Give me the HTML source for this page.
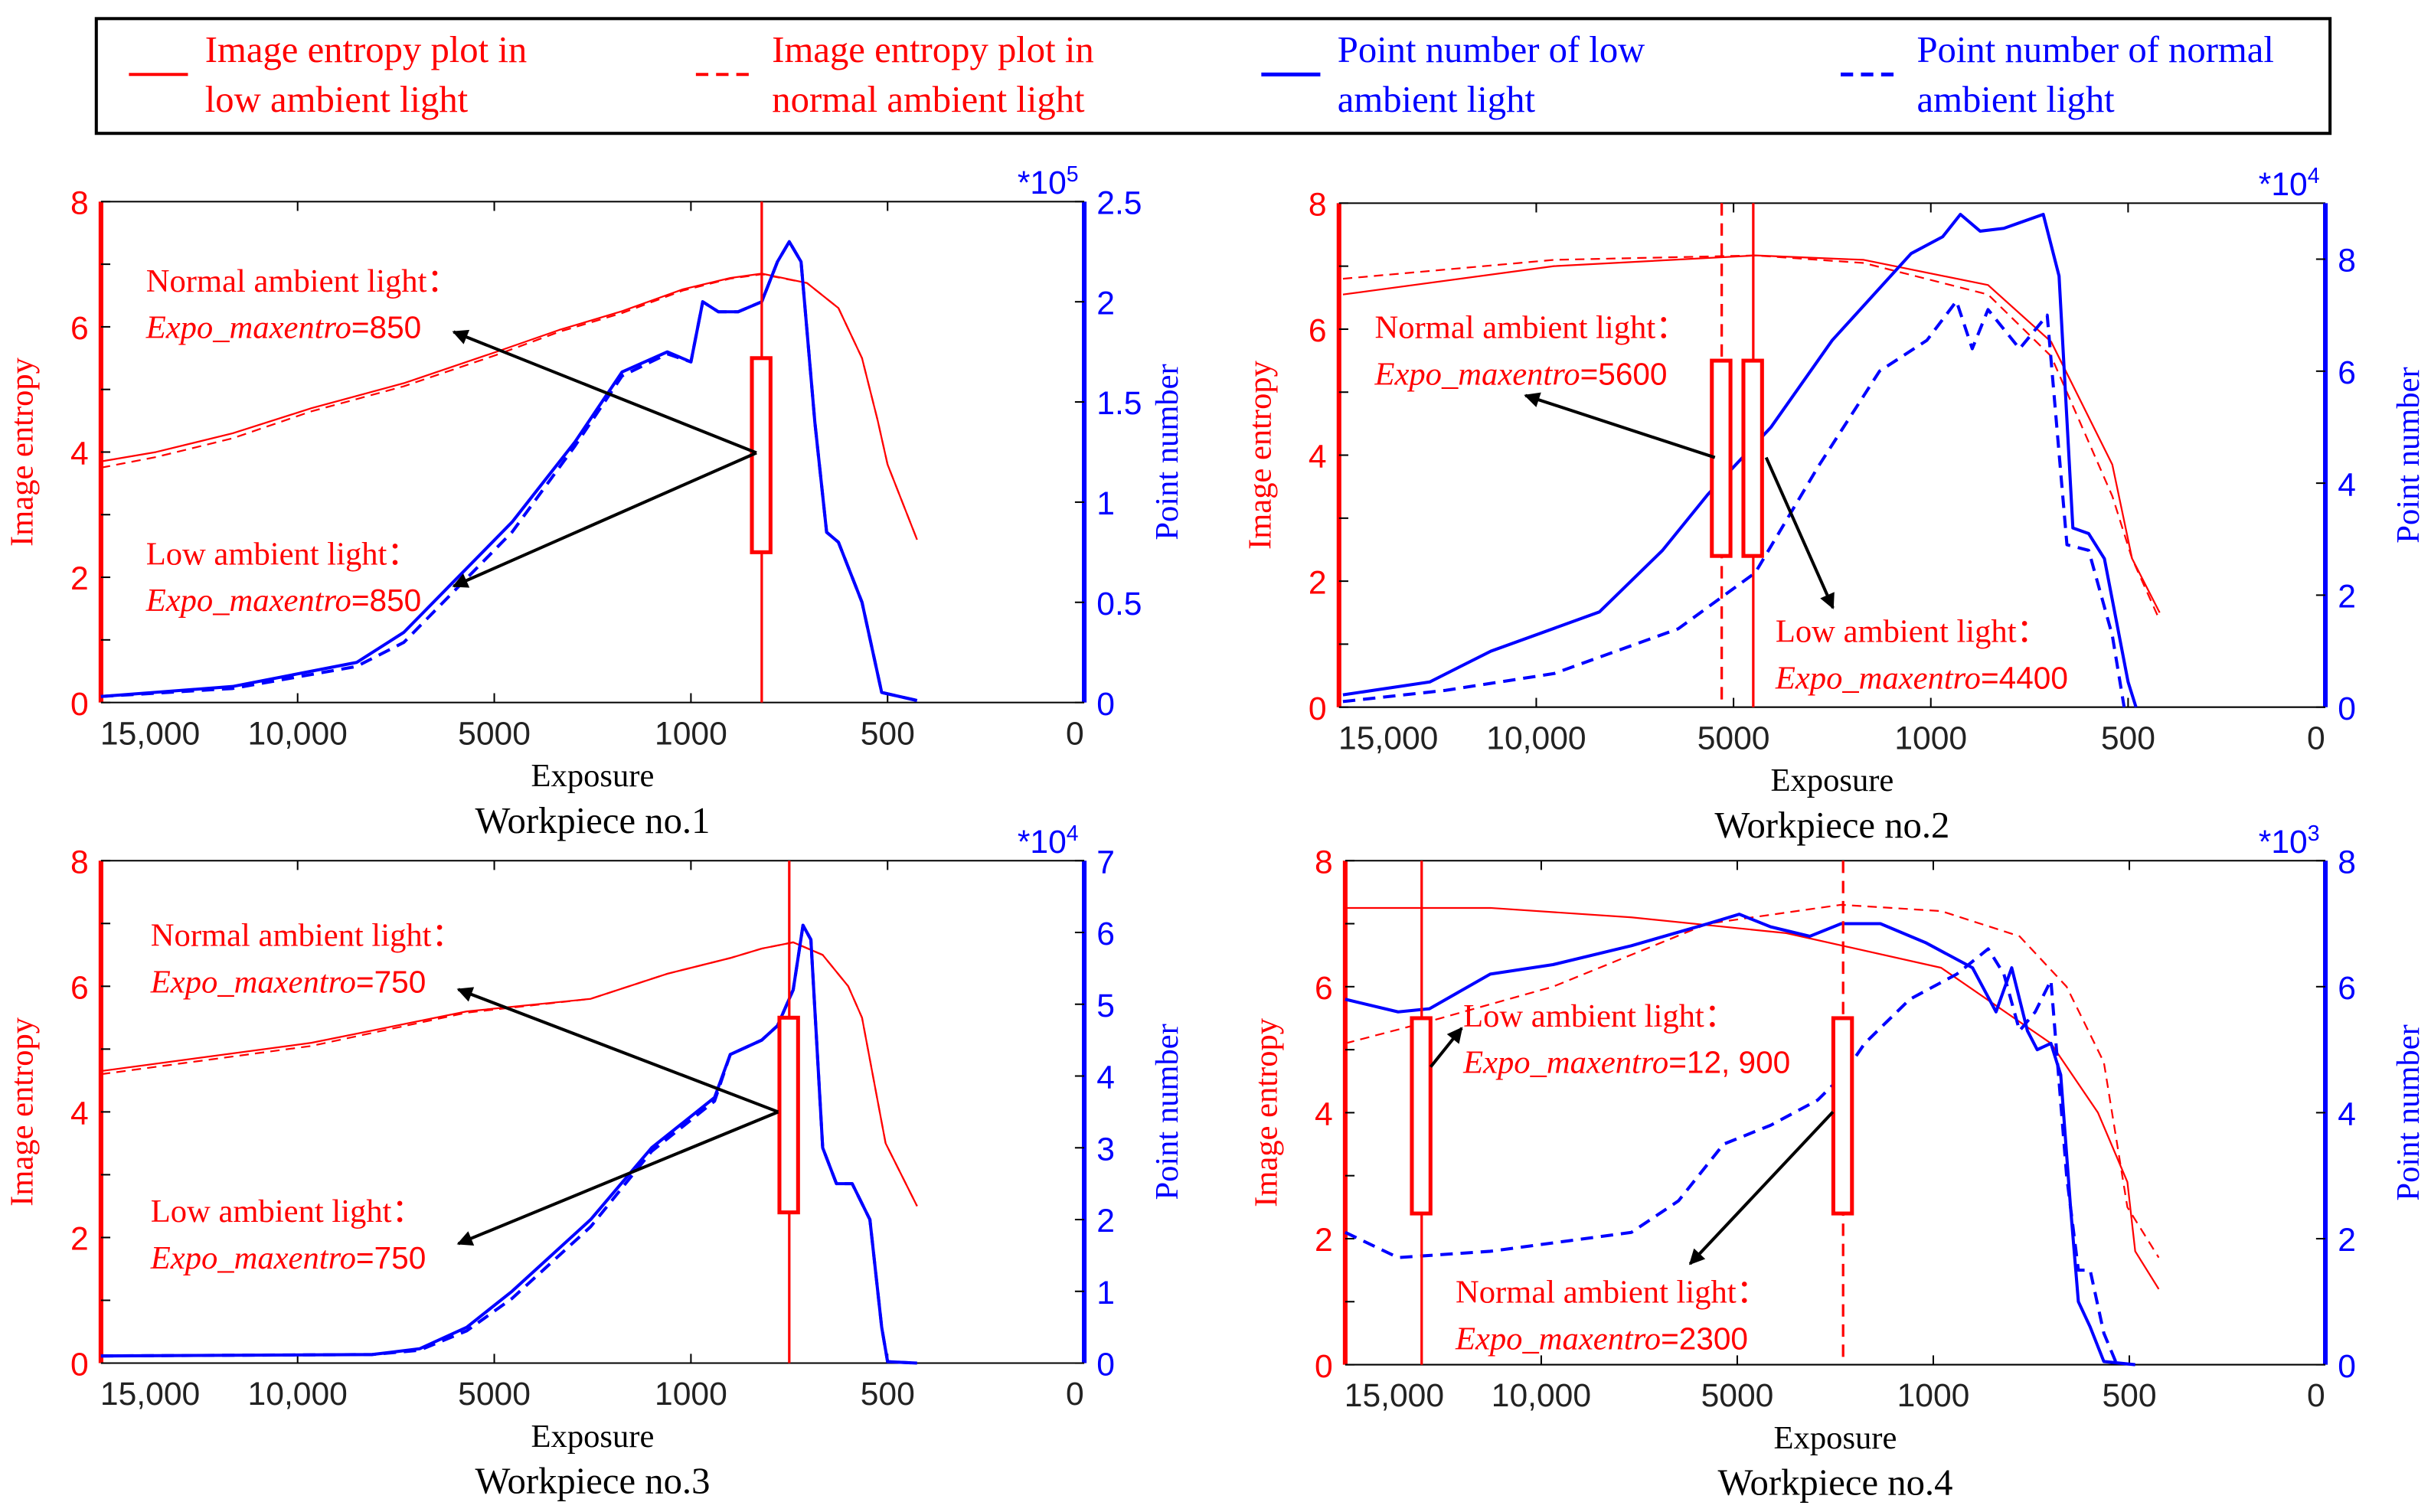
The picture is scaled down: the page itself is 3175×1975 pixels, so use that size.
<!DOCTYPE html>
<html><head><meta charset="utf-8"><style>
html,body{margin:0;padding:0;background:#fff}
svg{display:block}
text{font-family:"Liberation Serif",serif}
.tk{font-family:"Liberation Sans",sans-serif;font-size:21px}
</style></head><body>
<svg id="c" xmlns="http://www.w3.org/2000/svg" width="3175" height="1975" viewBox="0 0 1565 975" preserveAspectRatio="none">
<g>
<rect x="62" y="12" width="1438" height="74" fill="#fff" stroke="#000" stroke-width="2"/>
<line x1="83" y1="48" x2="121" y2="48" stroke="red" stroke-width="2"/>
<text x="132" y="40" font-size="24" fill="red">Image entropy plot in</text><text x="132" y="72" font-size="24" fill="red">low ambient light</text>
<line x1="448" y1="48" x2="486" y2="48" stroke="red" stroke-width="2" stroke-dasharray="8,5"/>
<text x="497" y="40" font-size="24" fill="red">Image entropy plot in</text><text x="497" y="72" font-size="24" fill="red">normal ambient light</text>
<line x1="812" y1="48" x2="850" y2="48" stroke="blue" stroke-width="2.5"/>
<text x="861" y="40" font-size="24" fill="blue">Point number of low</text><text x="861" y="72" font-size="24" fill="blue">ambient light</text>
<line x1="1185" y1="48" x2="1222" y2="48" stroke="blue" stroke-width="2.5" stroke-dasharray="8,5"/>
<text x="1234" y="40" font-size="24" fill="blue">Point number of normal</text><text x="1234" y="72" font-size="24" fill="blue">ambient light</text>
</g>
</svg>
<script>
// x values are positions on the exposure axis (tick index units: 10,000=1, 5000=2, 1000=3, 500=4, 0=5)
const tickU=[0.25,1,2,3,4,5];
const tickLabels=["15,000","10,000","5000","1000","500","0"];
const entTicks=[0,2,4,6,8];
// Panel 1
const p1EntX=[0,0.28,0.67,1.07,1.54,2.01,2.33,2.65,2.96,3.20,3.36,3.59,3.75,3.87,3.95,4.0,4.15];
const p1EntLow=[3.85,4.0,4.3,4.7,5.1,5.6,5.95,6.25,6.6,6.78,6.85,6.7,6.3,5.5,4.5,3.8,2.6];
const p1EntNorm=[3.75,3.92,4.22,4.65,5.05,5.55,5.92,6.22,6.58,6.77,6.84,6.7,6.3,5.5,4.5,3.8,2.6];
const p1PtX=[0,0.67,1.30,1.54,2.09,2.41,2.65,2.88,3.0,3.06,3.14,3.24,3.36,3.44,3.50,3.56,3.63,3.69,3.75,3.87,3.97,4.15];
const p1PtLow=[0.03,0.08,0.2,0.35,0.9,1.3,1.65,1.75,1.7,2.0,1.95,1.95,2.0,2.2,2.3,2.2,1.4,0.85,0.8,0.5,0.05,0.01];
const p1PtNorm=[0.03,0.07,0.18,0.3,0.85,1.28,1.63,1.74,1.7,2.0,1.95,1.95,2.0,2.2,2.3,2.2,1.4,0.85,0.8,0.5,0.05,0.01];
// Panel 2
const p2EntX=[0.02,1.09,2.11,2.66,3.29,3.61,3.92,4.02,4.16];
const p2EntLow=[6.55,7.0,7.17,7.1,6.7,5.8,3.85,2.36,1.5];
const p2EntNorm=[6.8,7.1,7.17,7.05,6.55,5.57,3.35,2.36,1.38];
const p2PtLowX=[0.02,0.46,0.77,1.32,1.64,1.87,2.19,2.50,2.90,3.06,3.15,3.25,3.37,3.45,3.57,3.65,3.72,3.80,3.88,4.0,4.04];
const p2PtLow=[0.22,0.45,1.0,1.7,2.8,3.8,5.0,6.55,8.1,8.4,8.8,8.5,8.55,8.65,8.8,7.7,3.2,3.1,2.65,0.45,0];
const p2PtNormX=[0.02,0.54,1.09,1.72,2.11,2.43,2.74,2.98,3.13,3.21,3.29,3.45,3.59,3.69,3.80,3.92,3.98];
const p2PtNorm=[0.1,0.3,0.6,1.4,2.4,4.3,6.0,6.55,7.25,6.4,7.1,6.4,7.0,2.9,2.8,1.28,0];
// Panel 3
const p3EntX=[0,1.07,1.86,2.49,2.88,3.20,3.36,3.52,3.67,3.80,3.87,3.99,4.15];
const p3EntLow=[4.65,5.1,5.6,5.8,6.2,6.45,6.6,6.7,6.5,6.0,5.5,3.5,2.5];
const p3EntNorm=[4.6,5.05,5.58,5.8,6.2,6.45,6.6,6.7,6.5,6.0,5.5,3.5,2.5];
const p3PtX=[0,1.38,1.62,1.86,2.09,2.49,2.80,3.12,3.20,3.28,3.36,3.44,3.52,3.57,3.61,3.67,3.74,3.82,3.91,3.97,4.0,4.15];
const p3PtLow=[0.1,0.12,0.2,0.5,1.0,2.0,3.0,3.7,4.3,4.4,4.5,4.7,5.2,6.1,5.9,3.0,2.5,2.5,2.0,0.5,0.02,0];
const p3PtNorm=[0.1,0.12,0.18,0.45,0.9,1.9,2.95,3.65,4.3,4.4,4.5,4.7,5.2,6.1,5.9,3.0,2.5,2.5,2.0,0.5,0.02,0];
// Panel 4
const p4EntLowX=[0,0.74,1.46,2.25,3.04,3.60,3.84,3.99,4.03,4.15];
const p4EntLow=[7.25,7.25,7.1,6.85,6.3,5.1,4.0,2.9,1.8,1.2];
const p4EntNormX=[0,0.43,1.06,1.85,2.53,3.04,3.44,3.68,3.87,3.99,4.15];
const p4EntNorm=[5.1,5.45,6.0,7.0,7.3,7.2,6.8,6.0,4.8,2.5,1.7];
const p4PtLowX=[0,0.27,0.43,0.74,1.06,1.46,1.85,2.01,2.17,2.37,2.53,2.73,2.96,3.20,3.32,3.40,3.48,3.53,3.60,3.65,3.70,3.74,3.80,3.87,4.03];
const p4PtLow=[5.8,5.6,5.65,6.2,6.35,6.65,7.0,7.15,6.95,6.8,7.0,7.0,6.7,6.3,5.6,6.3,5.3,5.0,5.1,4.6,2.5,1.0,0.6,0.05,0];
const p4PtNormX=[0,0.27,0.74,1.46,1.70,1.93,2.17,2.41,2.54,2.65,2.88,3.12,3.28,3.36,3.44,3.52,3.60,3.68,3.74,3.80,3.87,3.93];
const p4PtNorm=[2.1,1.7,1.8,2.1,2.6,3.5,3.8,4.2,4.6,5.1,5.8,6.2,6.6,6.2,5.3,5.6,6.1,3.0,1.5,1.5,0.5,0.05];

const NS="http://www.w3.org/2000/svg";
const svg=document.getElementById('c');
function mk(tag,attrs,parent){const e=document.createElementNS(NS,tag);for(const k in attrs)e.setAttribute(k,attrs[k]);(parent||svg).appendChild(e);return e;}
function txt(s,attrs,parent){const e=mk('text',attrs,parent);e.textContent=s;return e;}

const panels=[
 {L:65,R:698,T:130,B:453,rmax:2.5,rticks:[0,0.5,1,1.5,2,2.5],rlab:["0","0.5","1","1.5","2","2.5"],exp:"5",title:"Workpiece no.1",
  ent:[[p1EntX,p1EntLow,false],[p1EntX,p1EntNorm,true]],pts:[[p1PtX,p1PtLow,false],[p1PtX,p1PtNorm,true]],
  vlines:[[3.36,false]],boxes:[3.31],
  notes:[["Normal ambient light：","850",94,188],["Low ambient light：","850",94,364]],
  arrows:[[487,292,292,214],[487,292,292,378]]},
 {L:862,R:1497,T:131,B:456,rmax:9,rticks:[0,2,4,6,8],rlab:["0","2","4","6","8"],exp:"4",title:"Workpiece no.2",
  ent:[[p2EntX,p2EntLow,false],[p2EntX,p2EntNorm,true]],pts:[[p2PtLowX,p2PtLow,false],[p2PtNormX,p2PtNorm,true]],
  vlines:[[1.94,true],[2.10,false]],boxes:[1.89,2.05],
  notes:[["Normal ambient light：","5600",885,218],["Low ambient light：","4400",1143,414]],
  arrows:[[1104,295,982,255],[1137,295,1180,392]]},
 {L:65,R:698,T:555,B:879,rmax:7,rticks:[0,1,2,3,4,5,6,7],rlab:["0","1","2","3","4","5","6","7"],exp:"4",title:"Workpiece no.3",
  ent:[[p3EntX,p3EntLow,false],[p3EntX,p3EntNorm,true]],pts:[[p3PtX,p3PtLow,false],[p3PtX,p3PtNorm,true]],
  vlines:[[3.50,false]],boxes:[3.45],
  notes:[["Normal ambient light：","750",97,610],["Low ambient light：","750",97,788]],
  arrows:[[501,717,295,638],[501,717,295,802]]},
 {L:866,R:1497,T:555,B:880,rmax:8,rticks:[0,2,4,6,8],rlab:["0","2","4","6","8"],exp:"3",title:"Workpiece no.4",
  ent:[[p4EntLowX,p4EntLow,false],[p4EntNormX,p4EntNorm,true]],pts:[[p4PtLowX,p4PtLow,false],[p4PtNormX,p4PtNorm,true]],
  vlines:[[0.39,false],[2.54,true]],boxes:[0.34,2.49],
  notes:[["Low ambient light：","12, 900",942,662],["Normal ambient light：","2300",937,840]],
  arrows:[[921,688,941,663],[1180,717,1088,815]]}
];

const defs=mk('defs',{});
const mar=mk('marker',{id:'ah',viewBox:'0 0 10 10',refX:'9',refY:'5',markerWidth:'14',markerHeight:'10',markerUnits:'userSpaceOnUse',orient:'auto'},defs);
mk('path',{d:'M0,0 L10,5 L0,10 z',fill:'#000'},mar);

panels.forEach((p,i)=>{
  const g=mk('g',{});
  
  
  const xs=u=>p.L+(p.R-p.L)*u/5;
  const ye=v=>p.B-(p.B-p.T)*v/8;
  const yr=v=>p.B-(p.B-p.T)*v/p.rmax;
  const fr=mk('path',{d:`M${p.L},${p.T}H${p.R}M${p.L},${p.B}H${p.R}`,stroke:'#000','stroke-width':1,fill:'none'},g);
  
  
  tickU.forEach((u,k)=>{
    if(u>=1&&u<5){mk('line',{x1:xs(u),x2:xs(u),y1:p.B,y2:p.B-6,stroke:'#000'},g);mk('line',{x1:xs(u),x2:xs(u),y1:p.T,y2:p.T+6,stroke:'#000'},g);}
    const t=txt(tickLabels[k],{x:xs(u)+(k==5?-6:0),y:p.B+27,'text-anchor':'middle',class:'tk',fill:'#222'},g);
    
    
  });
  mk('line',{x1:p.L,x2:p.L,y1:p.T,y2:p.B,stroke:'red','stroke-width':3},g);
  for(let v=0;v<=8;v++){mk('line',{x1:p.L,x2:p.L+6,y1:ye(v),y2:ye(v),stroke:'#000'},g);}
  entTicks.forEach(v=>{
    const t=txt(String(v),{x:p.L-8,y:ye(v)+8,'text-anchor':'end',class:'tk',fill:'red'},g);
    
    
  });
  const yl=txt('Image entropy',{x:0,y:0,'font-size':21,fill:'red','text-anchor':'middle',transform:`translate(${p.L-44},${(p.T+p.B)/2}) rotate(-90)`},g);
  
  
  mk('line',{x1:p.R,x2:p.R,y1:p.T,y2:p.B,stroke:'blue','stroke-width':3},g);
  p.rticks.forEach((v,k)=>{
    mk('line',{x1:p.R,x2:p.R-6,y1:yr(v),y2:yr(v),stroke:'#000'},g);
    const t=txt(p.rlab[k],{x:p.R+8,y:yr(v)+8,class:'tk',fill:'blue'},g);
    
    
  });
  const mul=mk('text',{x:p.R-43,y:p.T-5,class:'tk',fill:'blue'},g);
  mul.innerHTML='*10<tspan dy="-8" font-size="14">'+p.exp+'</tspan>';
  
  
  const yr2=txt('Point number',{x:0,y:0,'font-size':21,fill:'blue','text-anchor':'middle',transform:`translate(${p.R+60},${(p.T+p.B)/2}) rotate(-90)`},g);
  
  
  const xl=txt('Exposure',{x:(p.L+p.R)/2,y:p.B+54,'text-anchor':'middle','font-size':21,fill:'#000'},g);
  
  
  const tl=txt(p.title,{x:(p.L+p.R)/2,y:p.B+84,'text-anchor':'middle','font-size':24,fill:'#000'},g);
  
  
  p.ent.forEach(([X,Y,d])=>{
    const e=mk('path',{d:X.map((u,k)=>(k?'L':'M')+xs(u)+','+ye(Y[k])).join(''),fill:'none',stroke:'red','stroke-width':1.1,'stroke-linejoin':'round','stroke-dasharray':d?'6,4':'none'},g);
    
    
  });
  p.pts.forEach(([X,Y,d])=>{
    const e=mk('path',{d:X.map((u,k)=>(k?'L':'M')+xs(u)+','+yr(Y[k])).join(''),fill:'none',stroke:'blue','stroke-width':2,'stroke-linejoin':'round','stroke-dasharray':d?'8,5':'none'},g);
    
    
  });
  p.vlines.forEach(([u,d])=>{
    const e=mk('line',{x1:xs(u),x2:xs(u),y1:p.T,y2:p.B,stroke:'red','stroke-width':1.6,'stroke-dasharray':d?'8,5':'none'},g);
    
    
  });
  p.boxes.forEach(u=>{
    const e=mk('rect',{x:xs(u),y:ye(5.5),width:12,height:ye(2.4)-ye(5.5),fill:'#fff',stroke:'red','stroke-width':2.5},g);
    
    
  });
  p.arrows.forEach(a=>{
    const e=mk('line',{x1:a[0],y1:a[1],x2:a[2],y2:a[3],stroke:'#000','stroke-width':2,'marker-end':'url(#ah)'},g);
    
    
  });
  p.notes.forEach(n=>{
    const a=txt(n[0],{x:n[2],y:n[3],'font-size':21,fill:'red'},g);
    
    
    const b=mk('text',{x:n[2],y:n[3]+30,'font-size':21,fill:'red'},g);
    b.innerHTML='<tspan font-style="italic">Expo_maxentro</tspan><tspan font-family="Liberation Sans, sans-serif" font-size="20">='+n[1]+'</tspan>';
    
    
  });
});
</script>
</body></html>
